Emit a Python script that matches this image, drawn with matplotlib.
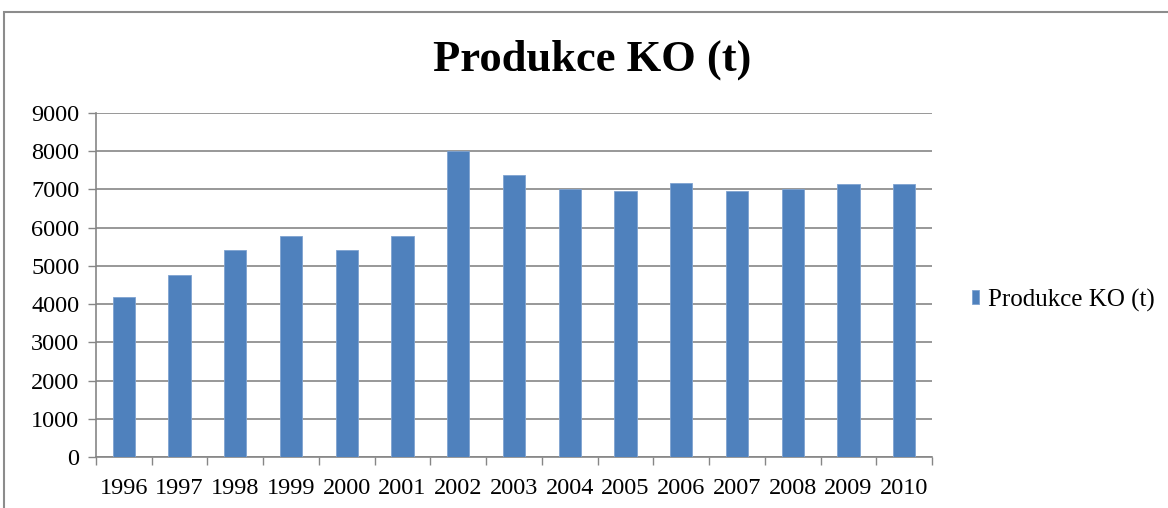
import matplotlib.pyplot as plt
import numpy as np
from matplotlib.patches import Rectangle

years = ['1996', '1997', '1998', '1999', '2000', '2001', '2002', '2003',
         '2004', '2005', '2006', '2007', '2008', '2009', '2010']
produkce = [4180, 4760, 5410, 5790, 5410, 5790, 8010, 7390,
            7000, 6955, 7170, 6955, 7010, 7140, 7140]
yticks = [0, 1000, 2000, 3000, 4000, 5000, 6000, 7000, 8000, 9000]

plt.rcParams['font.family'] = ['Liberation Serif', 'DejaVu Serif']

fig = plt.figure(figsize=(11.68, 5.08), dpi=100)
W, H = 1168, 508

# chart frame
fig.patches.append(Rectangle((4 / W, -0.1), 1.1, (H - 12) / H + 0.1,
                             transform=fig.transFigure, fill=False,
                             edgecolor='#8c8c8c', linewidth=1.5))

ax = fig.add_axes([96 / W, (H - 457) / H, (932 - 96) / W, (457 - 113) / H])
x = np.arange(len(years))
bars = ax.bar(x, produkce, width=0.4, color='#4f81bd', edgecolor='#7fa3d1',
              linewidth=0.6, label='Produkce KO (t)', zorder=3)

ax.set_xlim(-0.5, len(years) - 0.5)
ax.set_ylim(0, 9000)
ax.set_yticks(yticks)
ax.set_xticks(x)
ax.set_xticklabels(years)
ax.set_xticks(np.arange(len(years) + 1) - 0.5, minor=True)
ax.tick_params(axis='x', which='major', length=0, pad=15, labelsize=17.5)
ax.tick_params(axis='x', which='minor', length=6, color='#868686', width=1)
ax.tick_params(axis='y', length=6, color='#868686', width=1, pad=6, labelsize=17.5)
ax.yaxis.grid(True, color='#868686', linewidth=1.2, zorder=0)
ax.set_axisbelow(True)
for s in ['top', 'right']:
    ax.spines[s].set_visible(False)
for s in ['left', 'bottom']:
    ax.spines[s].set_color('#868686')
    ax.spines[s].set_linewidth(1.2)

fig.text(592 / W, (H - 60) / H, 'Produkce KO (t)', ha='center', va='center',
         fontsize=32, fontweight='bold')

leg = fig.legend(handles=[bars], labels=['Produkce KO (t)'],
                 loc='center left', bbox_to_anchor=(959 / W, (H - 300) / H),
                 frameon=False, fontsize=18, handlelength=0.3,
                 handleheight=0.5, handletextpad=0.35, borderpad=0)

fig.savefig('out.png', dpi=100)
